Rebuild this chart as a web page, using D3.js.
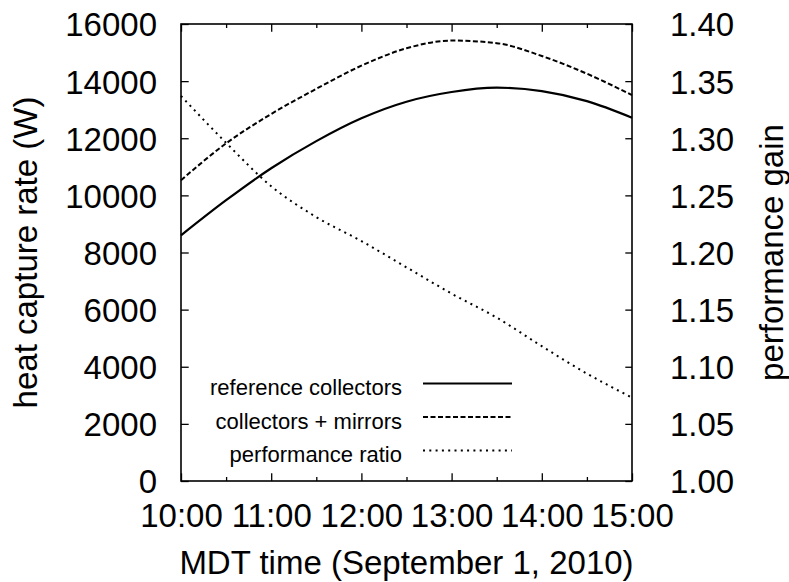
<!DOCTYPE html>
<html>
<head>
<meta charset="utf-8">
<script src="https://cdn.jsdelivr.net/npm/d3@7"></script>
<style>
  html, body { margin: 0; padding: 0; background: #fff; }
  svg { display: block; }
  text { font-family: "Liberation Sans", Arial, Helvetica, sans-serif; fill: #000; }
</style>
</head>
<body>
<svg id="chart" width="789" height="582"></svg>
<script>
// data (every half hour)
const hours = [10, 10.5, 11, 11.5, 12, 12.5, 13, 13.5, 14, 14.5, 15];
const hourTicks = [10, 11, 12, 13, 14, 15];
const hourLabels = ["10:00", "11:00", "12:00", "13:00", "14:00", "15:00"];
const referenceCollectors = [8600, 9830, 10950, 11900, 12700, 13280, 13620, 13770, 13650, 13300, 12720];
const collectorsMirrors = [10530, 11820, 12850, 13730, 14540, 15150, 15420, 15330, 14880, 14260, 13510];
const performanceRatio = [1.337, 1.296, 1.258, 1.231, 1.210, 1.187, 1.164, 1.143, 1.118, 1.094, 1.073];
const heatTicks = [0, 2000, 4000, 6000, 8000, 10000, 12000, 14000, 16000];
const gainTicks = [1.00, 1.05, 1.10, 1.15, 1.20, 1.25, 1.30, 1.35, 1.40];
const legendNames = ["reference collectors", "collectors + mirrors", "performance ratio"];

const svg = d3.select("#chart");
const L = 181, R = 632, T = 24, B = 481;
const FS = 33;

const x = d3.scaleLinear().domain([10, 15]).range([L, R]);
const y = d3.scaleLinear().domain([0, 16000]).range([B, T]);
const y2 = d3.scaleLinear().domain([1.0, 1.4]).range([B, T]);

const minorX = hours.filter(h => !hourTicks.includes(h));

// bottom axis: minor + major ticks, pointing inward
svg.append("g").attr("transform", `translate(0,${B})`)
  .call(d3.axisBottom(x).tickValues(minorX).tickSizeInner(-4).tickSizeOuter(0).tickFormat(""))
  .call(g => g.select(".domain").remove());
const xAx = svg.append("g").attr("transform", `translate(0,${B})`)
  .call(d3.axisBottom(x).tickValues(hourTicks).tickSizeInner(-7.7).tickSizeOuter(0)
    .tickFormat((d, i) => hourLabels[i]))
  .call(g => g.select(".domain").remove());
xAx.selectAll("text").attr("y", 46).attr("dy", 0)
  .style("font-size", FS + "px");

// top mirror ticks
svg.append("g").attr("transform", `translate(0,${T})`)
  .call(d3.axisTop(x).tickValues(minorX).tickSizeInner(-4).tickSizeOuter(0).tickFormat(""))
  .call(g => g.select(".domain").remove());
svg.append("g").attr("transform", `translate(0,${T})`)
  .call(d3.axisTop(x).tickValues(hourTicks).tickSizeInner(-7.7).tickSizeOuter(0).tickFormat(""))
  .call(g => g.select(".domain").remove());

// left axis
const yAx = svg.append("g").attr("transform", `translate(${L},0)`)
  .call(d3.axisLeft(y).tickValues(heatTicks).tickSizeInner(-7.7).tickSizeOuter(0)
    .tickPadding(24).tickFormat(d3.format("d")))
  .call(g => g.select(".domain").remove());
yAx.selectAll("text").attr("dy", "0.36em").style("font-size", FS + "px");

// right axis
const y2Ax = svg.append("g").attr("transform", `translate(${R},0)`)
  .call(d3.axisRight(y2).tickValues(gainTicks).tickSizeInner(-6.7).tickSizeOuter(0)
    .tickPadding(38).tickFormat(d3.format(".2f")))
  .call(g => g.select(".domain").remove());
y2Ax.selectAll("text").attr("dy", "0.36em").style("font-size", FS + "px");

svg.selectAll(".tick line").attr("stroke", "#000").attr("stroke-width", 1.3);
svg.selectAll("g").attr("font-family", null).attr("font-size", null);

// frame
svg.append("rect")
  .attr("x", L).attr("y", T).attr("width", R - L).attr("height", B - T)
  .attr("fill", "none").attr("stroke", "#000").attr("stroke-width", 1.6);

// curves
const styles = [
  { dash: null, w: 2.2 },
  { dash: "5 2.5", w: 2 },
  { dash: "2 4.3", w: 2 }
];

const lineY = d3.line().x((d, i) => x(hours[i])).y(d => y(d)).curve(d3.curveMonotoneX);
const lineY2 = d3.line().x((d, i) => x(hours[i])).y(d => y2(d)).curve(d3.curveMonotoneX);

const plot = svg.append("g");
[[referenceCollectors, lineY], [collectorsMirrors, lineY], [performanceRatio, lineY2]]
  .forEach(([vals, gen], k) => {
    plot.append("path")
      .attr("d", gen(vals))
      .attr("fill", "none")
      .attr("stroke", "#000")
      .attr("stroke-width", styles[k].w)
      .attr("stroke-dasharray", styles[k].dash);
  });

// legend
const legRows = [383.5, 417, 450.5];
legendNames.forEach((name, k) => {
  svg.append("text")
    .attr("x", 402).attr("y", legRows[k] + 11.5)
    .attr("text-anchor", "end")
    .style("font-size", "22px")
    .text(name);
  svg.append("line")
    .attr("x1", 423).attr("x2", 512)
    .attr("y1", legRows[k]).attr("y2", legRows[k])
    .attr("stroke", "#000")
    .attr("stroke-width", styles[k].w)
    .attr("stroke-dasharray", styles[k].dash);
});

// axis titles
svg.append("text")
  .attr("x", (L + R) / 2).attr("y", 574)
  .attr("text-anchor", "middle")
  .style("font-size", FS + "px")
  .text("MDT time (September 1, 2010)");

svg.append("text")
  .attr("transform", `translate(37,${(T + B) / 2}) rotate(-90)`)
  .attr("text-anchor", "middle")
  .style("font-size", FS + "px")
  .text("heat capture rate (W)");

svg.append("text")
  .attr("transform", `translate(783,${(T + B) / 2}) rotate(-90)`)
  .attr("text-anchor", "middle")
  .style("font-size", FS + "px")
  .text("performance gain");
</script>
</body>
</html>
